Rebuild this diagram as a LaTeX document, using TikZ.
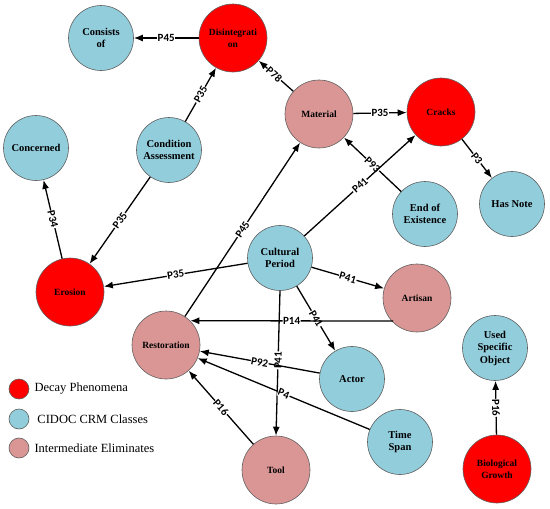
\documentclass[tikz,border=0pt]{standalone}
\usepackage{fontspec}
\setmainfont{Liberation Serif}
\newfontfamily\lblfont{Carlito}
\usepackage{xcolor}
\usepackage{tikz}
\usetikzlibrary{positioning,arrows.meta}
\definecolor{decay}{HTML}{FF0000}
\definecolor{crm}{HTML}{92CDDC}
\definecolor{inter}{HTML}{D99694}
\definecolor{rim}{HTML}{5F5F5F}

\begin{document}
\begin{tikzpicture}[
  x=1pt, y=-1pt,
  cls/.style={circle, draw=rim, line width=0.6pt, minimum size=65pt, inner sep=1pt, align=center,
    font=\fontsize{10.5}{12.5}\selectfont\bfseries},
  red/.style={cls, fill=decay, minimum size=68pt, font=\fontsize{9.5}{12}\selectfont\bfseries},
  blue/.style={cls, fill=crm},
  pink/.style={cls, fill=inter, minimum size=68pt, font=\fontsize{9.5}{12}\selectfont\bfseries},
  arr/.style={-{Latex[length=9pt, width=7pt]}, line width=1.3pt, black},
  lbl/.style={sloped, fill=white, inner sep=0.5pt, font=\lblfont\fontsize{11}{11}\selectfont\bfseries},
  dot/.style={circle, draw=rim, line width=0.6pt, minimum size=20pt, inner sep=0pt},
  legtext/.style={font=\fontsize{12.5}{14}\selectfont, inner sep=0pt}
]
\useasboundingbox (0,0) rectangle (550,509);
% classes
\node[blue] (cons) at (101,38) {Consists\\of};
\node[red]  (dis)  at (233,38) {Disintegrati\\on};
\node[blue] (cond) at (169,150) {Condition\\Assessment};
\node[blue] (conc) at (36,148) {Concerned};
\node[pink] (mat)  at (319,114) {Material};
\node[red]  (crk)  at (441,112) {Cracks};
\node[blue] (eoe)  at (425,214) {End of\\Existence};
\node[blue] (note) at (512,204) {Has Note};
\node[blue] (cult) at (280,258) {Cultural\\Period};
\node[red]  (ero)  at (70,292) {Erosion};
\node[pink] (art)  at (417,298) {Artisan};
\node[pink] (rest) at (166,345) {Restoration};
\node[blue] (act)  at (352,379) {Actor};
\node[blue] (used) at (495,348) {Used\\Specific\\Object};
\node[blue] (time) at (400,442) {Time\\Span};
\node[pink] (tool) at (276,470) {Tool};
\node[red]  (bio)  at (497,469) {Biological\\Growth};
\coordinate (p14) at (393,321);
% properties
\draw[arr] (dis) -- node[lbl] {P45} (cons);
\draw[arr] (cond) -- node[lbl] {P35} (dis);
\draw[arr] (mat) -- node[lbl, pos=0.55] {P78} (dis);
\draw[arr] (mat) -- node[lbl] {P35} (crk);
\draw[arr] (crk) -- node[lbl] {P3} (note);
\draw[arr] (eoe) -- node[lbl] {P93} (mat);
\draw[arr] (cult) -- node[lbl] {P41} (crk);
\draw[arr] (cond) -- node[lbl] {P35} (ero);
\draw[arr] (ero) -- node[lbl] {P34} (conc);
\draw[arr] (cult) -- node[lbl] {P35} (ero);
\draw[arr] (rest) -- node[lbl] {P45} (mat);
\draw[arr] (cult) -- node[lbl] {P41} (art);
\draw[arr] (cult) -- node[lbl] {P41} (act);
\draw[arr] (cult.south) -- node[lbl, pos=0.48] {P41} (tool.north);
\draw[arr] (p14) -- node[lbl] {P14} (rest.45);
\draw[arr] (act) -- node[lbl] {P92} (rest);
\draw[arr] (time) -- node[lbl] {P4} (rest);
\draw[arr] (tool) -- node[lbl] {P16} (rest);
\draw[arr] (bio) -- node[lbl] {P16} (used);
% legend
\node[dot, fill=decay] (l1) at (19,389) {};
\node[dot, fill=crm]   (l2) at (19,419) {};
\node[dot, fill=inter] (l3) at (19,448) {};
\node[legtext, right=5pt of l1] {Decay Phenomena};
\node[legtext, right=8pt of l2] {CIDOC CRM Classes};
\node[legtext, right=5pt of l3] {Intermediate Eliminates};
\end{tikzpicture}
\end{document}
